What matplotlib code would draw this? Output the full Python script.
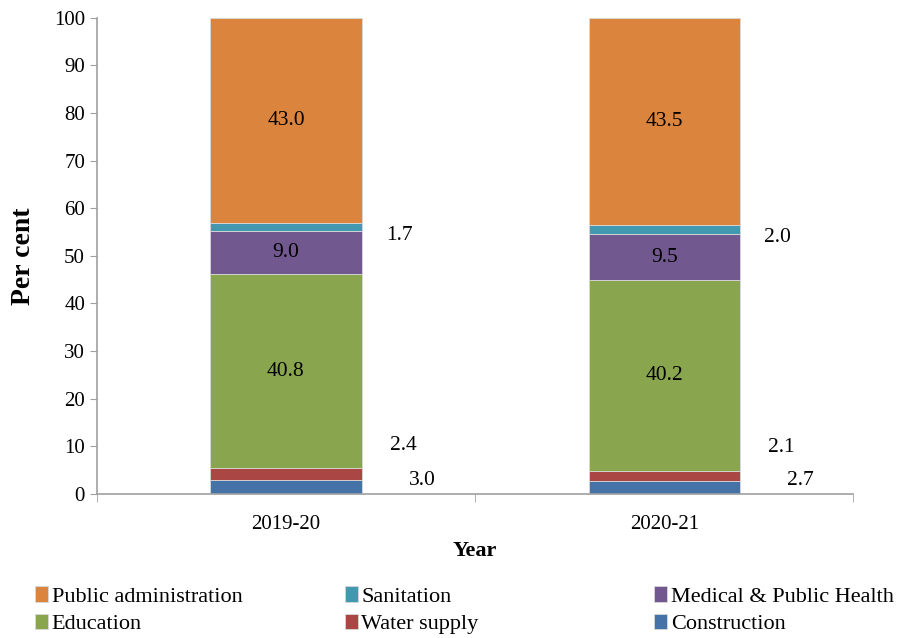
import matplotlib.pyplot as plt
import numpy as np

plt.rcParams['font.family'] = ['Liberation Serif', 'DejaVu Serif']

years = ["2019-20", "2020-21"]
series = ["Construction", "Water supply", "Education", "Medical & Public Health",
          "Sanitation", "Public administration"]
construction = [3.0, 2.7]
water_supply = [2.4, 2.1]
education = [40.8, 40.2]
medical = [9.0, 9.5]
sanitation = [1.7, 2.0]
public_admin = [43.0, 43.5]
values = [construction, water_supply, education, medical, sanitation, public_admin]
colors = ["#4572A7", "#AA4643", "#89A54E", "#71588F", "#4198AF", "#DB843D"]

# small segments get their labels outside the bar (dx, dy from segment centre)
outside = {"Construction": (0.36, 1.4), "Water supply": (0.31, 6.0), "Sanitation": (0.30, -1.7)}

fig = plt.figure(figsize=(9.05, 6.38), dpi=100)
ax = fig.add_axes([0.107, 0.226, 0.836, 0.746])

x = np.arange(len(years))
bottom = np.zeros(len(years))
handles = {}
for name, vals, c in zip(series, values, colors):
    vals = np.array(vals)
    bars = ax.bar(x, vals, 0.4, bottom=bottom, color=c, edgecolor="#d9d9d9", linewidth=0.6)
    handles[name] = bars
    mid = bottom + vals / 2
    for xi, v, m in zip(x, vals, mid):
        if name in outside:
            dx, dy = outside[name]
            ax.text(xi + dx, m + dy, "%.1f" % v, ha="center", va="center", fontsize=15.5)
        else:
            ax.text(xi, m, "%.1f" % v, ha="center", va="center", fontsize=15.5)
    bottom = bottom + vals

ax.set_xlim(-0.5, 1.5)
ax.set_ylim(0, 100)
ax.set_yticks(range(0, 101, 10))
ax.set_xticks(x)
ax.set_xticklabels(years, fontsize=15)
ax.set_xticks([-0.5, 0.5, 1.5], minor=True)
ax.tick_params(axis="x", which="major", length=0, pad=15)
ax.tick_params(axis="x", which="minor", length=6, color="#a0a0a0")
ax.tick_params(axis="y", labelsize=15, length=5, color="#a0a0a0")
for s in ["top", "right"]:
    ax.spines[s].set_visible(False)
for s in ["left", "bottom"]:
    ax.spines[s].set_color("#a0a0a0")
    ax.spines[s].set_linewidth(1.2)

ax.set_ylabel("Per cent", fontsize=20, fontweight="bold")
ax.yaxis.set_label_coords(-0.08, 0.5)
ax.set_xlabel("Year", fontsize=16, fontweight="bold", labelpad=5)

# legend laid out in three columns, two rows
columns = [["Public administration", "Education"],
           ["Sanitation", "Water supply"],
           ["Medical & Public Health", "Construction"]]
col_x = [0.024, 0.366, 0.708]
for names, cx in zip(columns, col_x):
    fig.legend([handles[n] for n in names], names, loc="lower left",
               bbox_to_anchor=(cx, -0.015), frameon=False, fontsize=16,
               handlelength=0.6, handleheight=0.7, handletextpad=0.15,
               labelspacing=0.3, borderaxespad=0.2)

fig.savefig("out.png", dpi=100)
